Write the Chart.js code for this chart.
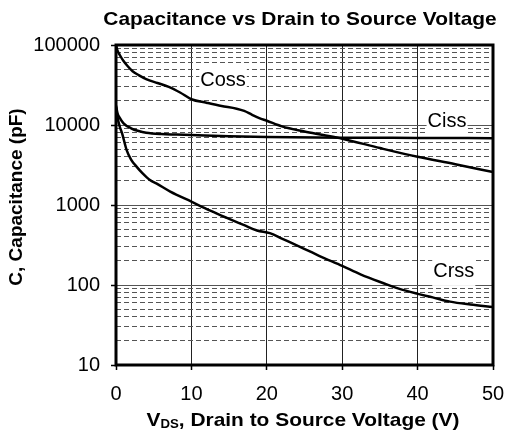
<!DOCTYPE html>
<html>
<head>
<meta charset="utf-8">
<script src="https://cdn.jsdelivr.net/npm/chart.js@4"></script>
<style>
  html, body { margin: 0; padding: 0; background: #fff; }
  #wrap { width: 509px; height: 438px; position: relative; }
</style>
</head>
<body>
<div id="wrap"><canvas id="c" width="509" height="438"></canvas></div>
<script>
// ---- data ----
const cossV = [0, 0.2, 0.5, 1, 1.5, 2.2, 3, 4, 5.5, 7, 8.5, 10, 12, 14, 16, 17, 18, 19, 20, 22, 25, 27.5, 30, 35, 40, 45, 50];
const cossC = [100000, 85000, 75000, 63000, 55000, 47000, 42000, 37500, 33500, 30000, 25500, 21000, 19000, 17300, 16000, 15000, 13500, 12200, 11300, 9600, 8300, 7500, 6750, 5150, 4000, 3240, 2580];

const cissV = [0, 0.2, 0.5, 1, 2, 3, 4, 6, 8, 10, 15, 20, 30, 40, 50];
const cissC = [17500, 14000, 12300, 10500, 9100, 8400, 8000, 7700, 7600, 7500, 7250, 7100, 6950, 6900, 6850];

const crssV = [0, 0.2, 0.5, 0.8, 1.4, 2, 2.75, 3.5, 4.5, 5.4, 7.2, 10, 12.5, 14.7, 17, 18.7, 20.4, 22, 24.4, 27, 30, 32.5, 35.4, 37.5, 39.9, 42, 44.3, 47, 50];
const crssC = [17000, 12500, 9500, 7900, 4900, 3700, 3000, 2500, 2050, 1850, 1470, 1100, 850, 690, 560, 480, 445, 380, 300, 230, 173, 135, 106, 90, 78, 70, 62, 57, 53];

const xTicks = [0, 10, 20, 30, 40, 50];
const yMajorTicks = [10, 100, 1000, 10000, 100000];
const yMinorTicks = [20,30,40,50,60,70,80,90, 200,300,400,500,600,700,800,900, 2000,3000,4000,5000,6000,7000,8000,9000, 20000,30000,40000,50000,60000,70000,80000,90000];

const seriesNames = ['Coss', 'Ciss', 'Crss'];
const labelPos = [[14.2, 37600], [43.9, 11550], [44.8, 150]];

const titleText = 'Capacitance vs Drain to Source Voltage';
const yTitle = 'C, Capacitance (pF)';
const xTitleMain = 'V';
const xTitleSub = 'DS';
const xTitleRest = ', Drain to Source Voltage (V)';

const FONT = '"Liberation Sans", Arial, Helvetica, sans-serif';

function pts(xs, ys) { return xs.map((x, i) => ({ x: x, y: ys[i] })); }

function drawStretched(ctx, parts, cx, cy, sx) {
  ctx.save();
  let total = 0;
  parts.forEach(p => { ctx.font = p.font; p.w = ctx.measureText(p.text).width; total += p.w; });
  ctx.translate(cx, cy);
  ctx.scale(sx, 1);
  let x = -total / 2;
  ctx.textAlign = 'left';
  ctx.textBaseline = 'middle';
  ctx.fillStyle = '#000';
  parts.forEach(p => { ctx.font = p.font; ctx.fillText(p.text, x, p.dy || 0); x += p.w; });
  ctx.restore();
}

const textPlugin = {
  id: 'texts',
  afterDatasetsDraw(chart) {
    const ctx = chart.ctx;
    const xs = chart.scales.x, ys = chart.scales.y;
    const ca = chart.chartArea;
    ctx.save();
    ctx.font = '20px ' + FONT;
    ctx.textAlign = 'center';
    ctx.textBaseline = 'middle';
    seriesNames.forEach((n, i) => {
      const px = xs.getPixelForValue(labelPos[i][0]);
      const py = ys.getPixelForValue(labelPos[i][1]);
      const w = ctx.measureText(n).width;
      ctx.fillStyle = '#fff';
      ctx.fillRect(px - w / 2 - 1, py - 11, w + 2, 26);
      ctx.fillStyle = '#000';
      ctx.fillText(n, px, py + 1);
    });
    ctx.restore();
    ctx.save();
    ctx.strokeStyle = '#000';
    ctx.lineWidth = 3;
    ctx.strokeRect(ca.left, ca.top, ca.right - ca.left, ca.bottom - ca.top);
    ctx.restore();
  },
  afterDraw(chart) {
    const ctx = chart.ctx;
    const ca = chart.chartArea;
    const mid = (ca.left + ca.right) / 2;
    drawStretched(ctx, [{ text: titleText, font: 'bold 19px ' + FONT }], mid - 4.5, 20, 1.1);
    drawStretched(ctx, [
      { text: xTitleMain, font: 'bold 19px ' + FONT },
      { text: xTitleSub, font: 'bold 12px ' + FONT, dy: 4 },
      { text: xTitleRest, font: 'bold 19px ' + FONT }
    ], mid - 1.5, 421, 1.1);
    ctx.save();
    ctx.translate(17, (ca.top + ca.bottom) / 2 - 8);
    ctx.rotate(-Math.PI / 2);
    ctx.font = 'bold 19px ' + FONT;
    ctx.textAlign = 'center';
    ctx.textBaseline = 'middle';
    ctx.fillStyle = '#000';
    ctx.fillText(yTitle, 0, 0);
    ctx.restore();
  }
};

const lineStyle = { borderColor: '#000', borderWidth: 2.5, pointRadius: 0, fill: false, cubicInterpolationMode: 'monotone' };

new Chart(document.getElementById('c'), {
  type: 'line',
  data: {
    datasets: [
      Object.assign({ label: 'Coss', data: pts(cossV, cossC) }, lineStyle),
      Object.assign({ label: 'Ciss', data: pts(cissV, cissC) }, lineStyle),
      Object.assign({ label: 'Crss', data: pts(crssV, crssC) }, lineStyle)
    ]
  },
  options: {
    responsive: false,
    animation: false,
    devicePixelRatio: 1,
    layout: { padding: { left: 0, right: 16, top: 45, bottom: 0 } },
    plugins: { legend: { display: false }, tooltip: { enabled: false }, title: { display: false } },
    scales: {
      x: {
        type: 'linear', min: 0, max: 50,
        afterBuildTicks: s => { s.ticks = xTicks.map(v => ({ value: v })); },
        afterFit: s => { s.height = 73; s.paddingLeft = 0; s.paddingRight = 0; },
        grid: { color: '#222', lineWidth: 1, tickLength: 5, tickColor: '#000', tickWidth: 1.5 },
        border: { display: false },
        ticks: { color: '#000', font: { family: FONT, size: 20 }, padding: 12, maxRotation: 0, autoSkip: false }
      },
      y: {
        type: 'logarithmic', min: 10, max: 100000, position: 'left',
        afterBuildTicks: s => { s.ticks = yMajorTicks.map(v => ({ value: v, major: true })); },
        afterFit: s => { s.width = 116; s.paddingTop = 0; s.paddingBottom = 0; },
        grid: { color: '#555', lineWidth: 1, tickLength: 5, tickColor: '#000', tickWidth: 1.5 },
        border: { display: false },
        ticks: { color: '#000', font: { family: FONT, size: 20 }, padding: 11, autoSkip: false, callback: v => String(v) }
      },
      y2: {
        type: 'logarithmic', min: 10, max: 100000, position: 'left',
        afterBuildTicks: s => { s.ticks = yMinorTicks.map(v => ({ value: v })); },
        afterFit: s => { s.width = 0; s.paddingTop = 0; s.paddingBottom = 0; },
        grid: { color: '#555', lineWidth: 1, drawTicks: false },
        border: { display: false, dash: [5, 3] },
        ticks: { display: false, autoSkip: false }
      }
    }
  },
  plugins: [textPlugin]
});
</script>
</body>
</html>
